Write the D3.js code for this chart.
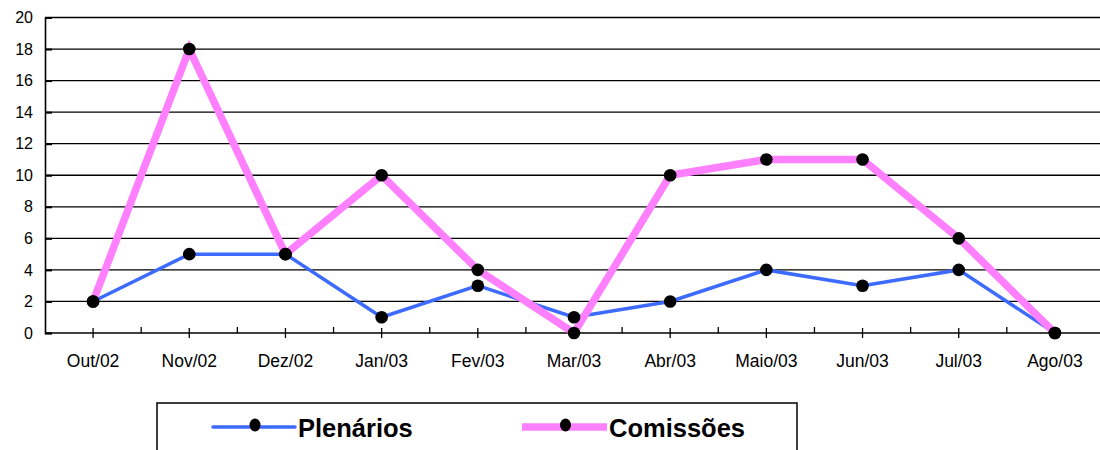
<!DOCTYPE html>
<html><head><meta charset="utf-8">
<script src="https://cdn.jsdelivr.net/npm/d3@7"></script>
<style>body{margin:0;background:#fff}svg{display:block}text{font-family:"Liberation Sans",Arial,sans-serif}</style>
</head><body>
<svg id="c" width="1100" height="450"></svg>
<script>
const categories = ["Out/02","Nov/02","Dez/02","Jan/03","Fev/03","Mar/03","Abr/03","Maio/03","Jun/03","Jul/03","Ago/03"];
const plenarios = [2,5,5,1,3,1,2,4,3,4,0];
const comissoes = [2,18,5,10,4,0,10,11,11,6,0];
const yTicks = [0,2,4,6,8,10,12,14,16,18,20];
const seriesNames = ["Plenários","Comissões"];

(function(){
const svg = d3.select("#c");
const pL = 45, pR = 1103, pT = 17.5, pB = 333;
const x = d3.scaleBand().domain(categories).range([pL, pR]);
const y = d3.scaleLinear().domain([0,20]).range([pB, pT]);
const cx = d => x(d) + x.bandwidth()/2;

// gridlines
svg.append("g").selectAll("line").data(yTicks.filter(t=>t>0)).join("line")
  .attr("x1", pL).attr("x2", 1100).attr("y1", d=>y(d)).attr("y2", d=>y(d))
  .attr("stroke","#000").attr("stroke-width",1.3);

// y axis
const ya = svg.append("g").attr("transform",`translate(${pL},0)`)
  .call(d3.axisLeft(y).tickValues(yTicks).tickSize(-7).tickPadding(12));
ya.select(".domain").attr("stroke","#000").attr("stroke-width",1.6);
ya.selectAll(".tick line").attr("stroke","#000").attr("stroke-width",2);
ya.selectAll("text").attr("font-size",16).attr("fill","#000").attr("font-family","Liberation Sans, Arial, sans-serif");

// x axis
svg.append("line").attr("x1",pL).attr("x2",1100).attr("y1",pB).attr("y2",pB)
  .attr("stroke","#000").attr("stroke-width",1.6);
const xa = svg.append("g");
xa.selectAll("line.maj").data(categories).join("line").attr("class","maj")
  .attr("x1",cx).attr("x2",cx).attr("y1",pB-5).attr("y2",pB+5)
  .attr("stroke","#000").attr("stroke-width",1.3);
xa.selectAll("line.min").data(categories).join("line").attr("class","min")
  .attr("x1",d=>x(d)+x.bandwidth()).attr("x2",d=>x(d)+x.bandwidth()).attr("y1",pB-6).attr("y2",pB)
  .attr("stroke","#000").attr("stroke-width",1.3);
xa.selectAll("text").data(categories).join("text")
  .attr("x",cx).attr("y",367).attr("text-anchor","middle").attr("font-size",17.5).attr("fill","#000").text(d=>d);

const line = d3.line().x((d,i)=>cx(categories[i])).y(d=>y(d));
const series = [
  {name:seriesNames[0], values:plenarios, color:"#3d6bff", w:3.5},
  {name:seriesNames[1], values:comissoes, color:"#ff80ff", w:7.5}
];
series.forEach(s=>{
  svg.append("path").datum(s.values).attr("d",line).attr("fill","none")
    .attr("stroke",s.color).attr("stroke-width",s.w).attr("stroke-linejoin","miter");
});
series.forEach(s=>{
  svg.append("g").selectAll("circle").data(s.values).join("circle")
    .attr("cx",(d,i)=>cx(categories[i])).attr("cy",d=>y(d)).attr("r",6.3).attr("fill","#000");
});

// legend
const lg = svg.append("g");
lg.append("rect").attr("x",157).attr("y",403).attr("width",640).attr("height",60)
  .attr("fill","#fff").attr("stroke","#000").attr("stroke-width",1.5);
const legItems = [
  {s:series[0], x1:213, x2:295, tx:298},
  {s:series[1], x1:522, x2:607, tx:609}
];
legItems.forEach(it=>{
  lg.append("line").attr("x1",it.x1).attr("x2",it.x2).attr("y1",427).attr("y2",427)
    .attr("stroke",it.s.color).attr("stroke-width",it.s.w).attr("stroke-linecap", it.s.w<5?"round":"butt");
  lg.append("ellipse").attr("cx",(it.x1+it.x2)/2+1).attr("cy",425).attr("rx",5.5).attr("ry",6.5).attr("fill","#000");
  lg.append("text").attr("x",it.tx).attr("y",437).attr("font-size",25.5).attr("font-weight","bold").attr("fill","#000").text(it.s.name);
});
})();
</script>
</body></html>
